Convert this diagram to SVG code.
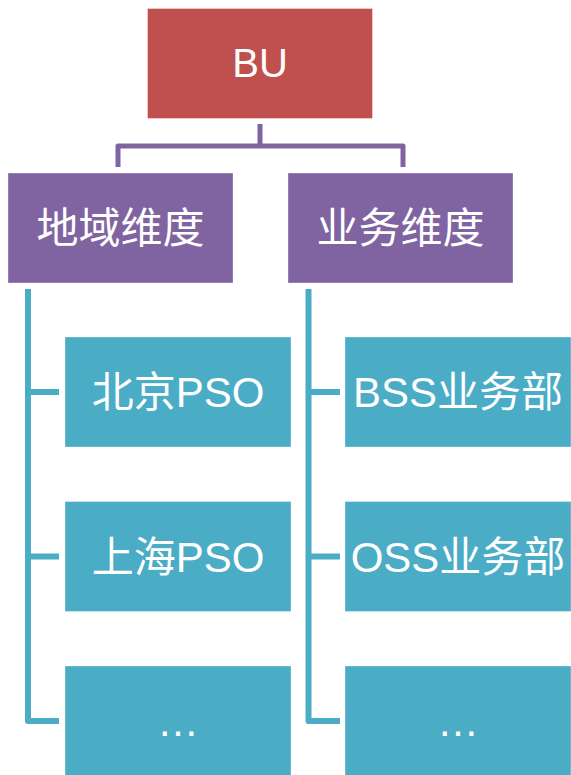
<svg xmlns="http://www.w3.org/2000/svg" width="571" height="775" viewBox="0 0 571 775">
<style>
.box{stroke:#ffffff;stroke-opacity:0.35;stroke-width:1}
.red{fill:#C0504D}
.pur{fill:#8064A2}
.teal{fill:#4BACC6}
text{font-family:"Liberation Sans","Noto Sans CJK SC",sans-serif;font-size:42px;fill:#ffffff;text-anchor:middle}
.bu{font-size:40px}
.cp{fill:none;stroke:#8064A2;stroke-width:5;stroke-linejoin:round}
.ct{fill:none;stroke:#4BACC6;stroke-width:6;stroke-linejoin:round}
</style>
<rect width="571" height="775" fill="#ffffff"/>
<g id="connectors">
<path class="cp" d="M260,124 V146 M118,167 V146 H403 V167"/>
<path class="ct" d="M28,289 V721 H59 M28,392 H59 M28,556.5 H59"/>
<path class="ct" d="M308.5,289 V721 H340 M308.5,392 H340 M308.5,556.5 H340"/>
</g>
<g id="node-bu"><rect class="box red" x="147.5" y="8.5" width="225" height="110"/><text class="bu" x="260" y="77">BU</text></g>
<g id="node-region"><rect class="box pur" x="8" y="173" width="225" height="110"/><text x="120.5" y="242.5">地域维度</text></g>
<g id="node-business"><rect class="box pur" x="288" y="173" width="225" height="110"/><text x="400.5" y="242.5">业务维度</text></g>
<g id="node-beijing"><rect class="box teal" x="65" y="337" width="226" height="110"/><text x="178" y="407">北京PSO</text></g>
<g id="node-shanghai"><rect class="box teal" x="65" y="501.5" width="226" height="110"/><text x="178" y="571.5">上海PSO</text></g>
<g id="node-more-left"><rect class="box teal" x="65" y="666" width="226" height="110"/><text x="178" y="736">…</text></g>
<g id="node-bss"><rect class="box teal" x="345" y="337" width="226" height="110"/><text x="458" y="407">BSS业务部</text></g>
<g id="node-oss"><rect class="box teal" x="345" y="501.5" width="226" height="110"/><text x="458" y="571.5">OSS业务部</text></g>
<g id="node-more-right"><rect class="box teal" x="345" y="666" width="226" height="110"/><text x="458" y="736">…</text></g>
</svg>
